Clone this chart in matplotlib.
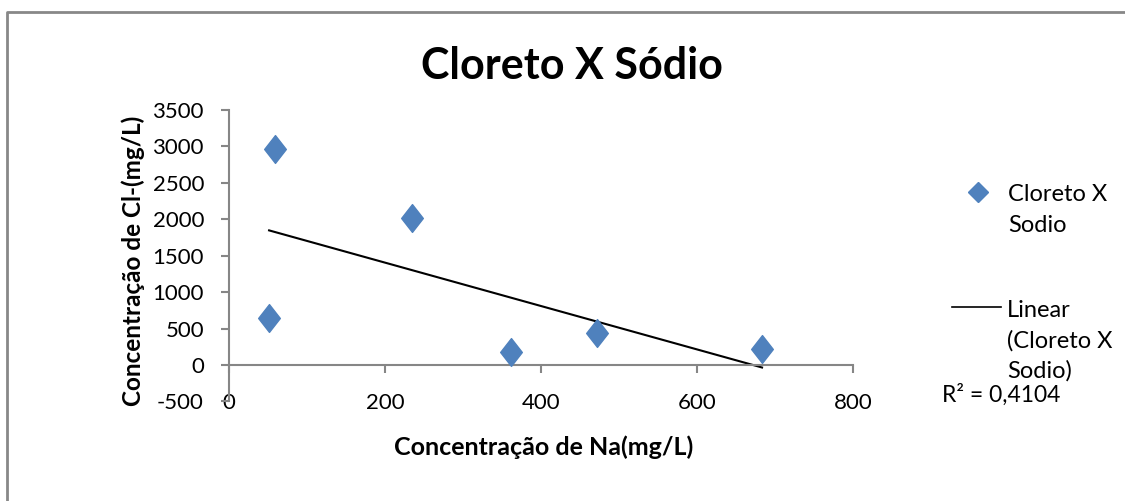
import matplotlib
matplotlib.use("Agg")
import matplotlib.pyplot as plt
import numpy as np
from matplotlib.lines import Line2D
from matplotlib.path import Path

plt.rcParams['font.family'] = ['Lato', 'DejaVu Sans']
plt.rcParams['axes.unicode_minus'] = False

# Na vs Cl concentrations (mg/L)
sodio = [51.4, 58.9, 234.9, 361.7, 471.4, 683.4]
cloreto = [648, 2965, 2012, 178, 442, 214]
x_ticks = [0, 200, 400, 600, 800]
y_ticks = [-500, 0, 500, 1000, 1500, 2000, 2500, 3000, 3500]
r2_label = "R² = 0,4104"

blue = "#4F81BD"
axis_gray = "#868686"

# Excel-like diamond (a bit taller than wide)
diamond = Path([(0, 1), (0.78, 0), (0, -1), (-0.78, 0), (0, 1)],
               [Path.MOVETO, Path.LINETO, Path.LINETO, Path.LINETO, Path.CLOSEPOLY])

fig = plt.figure(figsize=(11.25, 5.01), dpi=100)
ax = fig.add_axes([229 / 1125, (501 - 401.4) / 501, 624 / 1125, 291.4 / 501])

ax.plot(sodio, cloreto, linestyle="none", marker=diamond, markersize=20,
        color=blue, markeredgecolor=blue, zorder=3)

# linear trendline over the data range
slope, intercept = np.polyfit(sodio, cloreto, 1)
xs = np.array([min(sodio), max(sodio)])
ax.plot(xs, slope * xs + intercept, color="black", linewidth=1.5, zorder=2)

ax.set_xlim(0, 800)
ax.set_ylim(-500, 3500)
ax.set_xticks(x_ticks)
ax.set_yticks(y_ticks)

for side in ("top", "right"):
    ax.spines[side].set_visible(False)
ax.spines["left"].set_position(("data", 0))
ax.spines["bottom"].set_position(("data", 0))
for side in ("left", "bottom"):
    ax.spines[side].set_color(axis_gray)
    ax.spines[side].set_linewidth(1.5)

ax.tick_params(axis="both", direction="out", length=6, width=1.5, color=axis_gray,
               labelsize=16, labelcolor="black")
ax.tick_params(axis="x", pad=14)
ax.tick_params(axis="y", pad=12)

ax.set_xlabel("Concentração de Na(mg/L)", fontsize=18, fontweight="bold", labelpad=0)
ax.xaxis.set_label_coords(0.504, -0.118)
ax.set_ylabel("Concentração de Cl-(mg/L)", fontsize=17.5, fontweight="bold")
ax.yaxis.set_label_coords(-0.135, 0.4835)

fig.text(572 / 1125, 1 - 66 / 501, "Cloreto X Sódio", ha="center", va="center",
         fontsize=31, fontweight="bold")

# legend, drawn in figure coordinates
fig.add_artist(Line2D([978 / 1125], [1 - 192 / 501], marker="D", markersize=10,
                      color=blue, linestyle="none"))
fig.text(1008 / 1125, 1 - 210 / 501, "Cloreto X\nSodio", ha="left", va="center",
         fontsize=17, linespacing=1.55)
fig.add_artist(Line2D([952 / 1125, 1001 / 1125], [1 - 307 / 501] * 2,
                      color="black", linewidth=1.2))
fig.text(1007 / 1125, 1 - 341 / 501, "Linear\n(Cloreto X\nSodio)", ha="left",
         va="center", fontsize=17, linespacing=1.5)
fig.text(942 / 1125, 1 - 395 / 501, r2_label, ha="left", va="center", fontsize=16.5)

# chart-area frame (top and left edges visible)
fig.add_artist(Line2D([7 / 1125, 7 / 1125, 1], [0, 1 - 12 / 501, 1 - 12 / 501],
                      color="#888888", linewidth=2))

fig.savefig("out.png", dpi=100, facecolor="white")
